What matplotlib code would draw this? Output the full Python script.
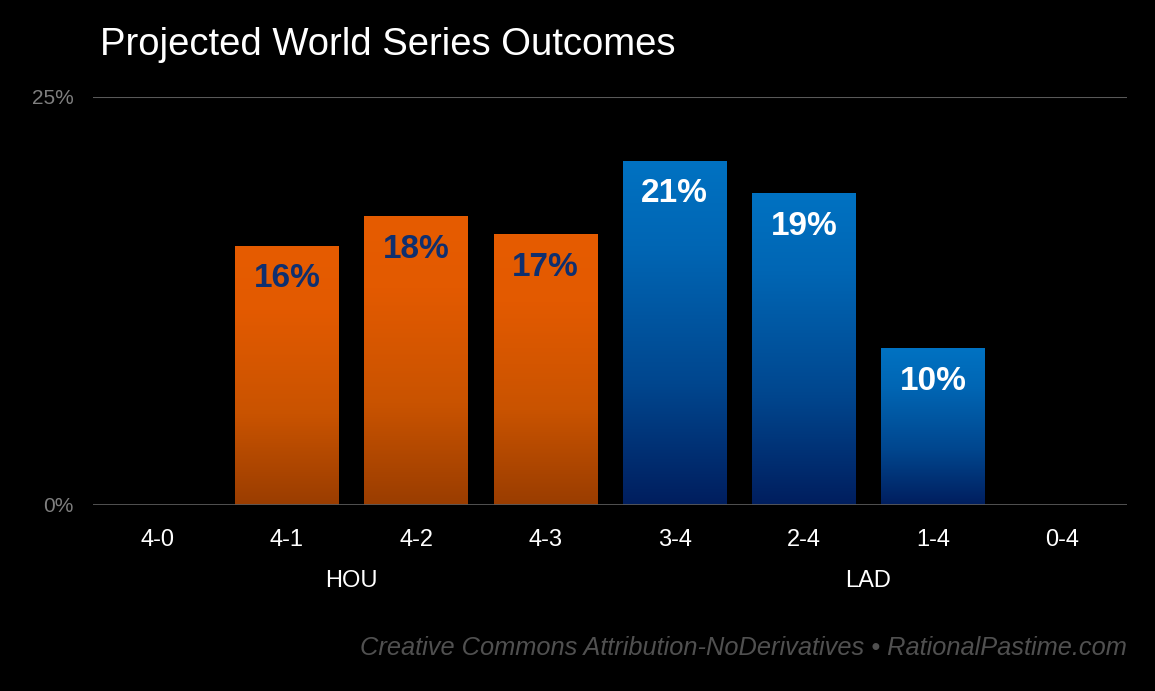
import numpy as np
import matplotlib
matplotlib.use("Agg")
import matplotlib.pyplot as plt
from matplotlib.colors import LinearSegmentedColormap

categories = ["4-0", "4-1", "4-2", "4-3", "3-4", "2-4", "1-4", "0-4"]
values = [0.0, 15.9, 17.7, 16.6, 21.1, 19.1, 9.6, 0.0]
labels = ["", "16%", "18%", "17%", "21%", "19%", "10%", ""]
teams = ["HOU", "HOU", "HOU", "HOU", "LAD", "LAD", "LAD", "LAD"]
group_names = ["HOU", "LAD"]
yticks = [0, 25]
ytick_labels = ["0%", "25%"]

plt.rcParams['font.family'] = ['Liberation Sans', 'DejaVu Sans']

fig = plt.figure(figsize=(11.55, 6.91), dpi=100, facecolor='black')
ax = fig.add_axes([93/1155, 1-505/691, (1127-93)/1155, (505-97)/691])
ax.set_facecolor('black')

x = np.arange(len(categories))
bars = ax.bar(x, values, width=0.8, color='none', edgecolor='none', zorder=2)

orange = LinearSegmentedColormap.from_list('o', [(0, '#9A3D00'), (0.35, '#C95300'), (0.75, '#E35A00'), (1, '#E65C00')])
blue = LinearSegmentedColormap.from_list('b', [(0, '#001E5E'), (0.35, '#00468E'), (0.75, '#0066B4'), (1, '#0072C2')])
grad = np.linspace(0, 1, 256).reshape(-1, 1)

for b, v, t in zip(bars, values, teams):
    if v <= 0:
        continue
    cmap = orange if t == "HOU" else blue
    x0 = b.get_x()
    im = ax.imshow(grad, cmap=cmap, origin='lower', aspect='auto',
                   extent=[x0, x0 + b.get_width(), 0, v], zorder=2)
    im.set_clip_path(b)

ax.set_xlim(-0.5, len(categories) - 0.5)
ax.set_ylim(0, 25)

for xi, v, lab, t in zip(x, values, labels, teams):
    if not lab:
        continue
    col = '#0F2F6F' if t == "HOU" else 'white'
    ax.annotate(lab, (xi, v), xytext=(0, -33), textcoords='offset pixels',
                ha='center', va='center', fontsize=24, fontweight='bold',
                color=col, zorder=3)

for s in ax.spines.values():
    s.set_visible(False)
ax.axhline(25, color='#595959', lw=1.5, zorder=1)
ax.axhline(0, color='#595959', lw=2, zorder=3)

ax.set_yticks(yticks)
ax.set_yticklabels(ytick_labels, color='#7F7F7F', fontsize=15)
ax.tick_params(axis='y', length=0, pad=14)
ax.set_xticks(x)
ax.set_xticklabels(categories, color='white', fontsize=17)
ax.tick_params(axis='x', length=0, pad=17)

for g in group_names:
    idx = [i for i, t in enumerate(teams) if t == g]
    cx = np.mean([x[i] for i in idx])
    ax.annotate(g, (cx, 0), xytext=(0, -76), textcoords='offset pixels',
                ha='center', va='center', color='white', fontsize=17,
                annotation_clip=False)

fig.text(100/1155, 1-45/691, "Projected World Series Outcomes", color='white',
         fontsize=27.5, ha='left', va='center')
fig.text(1127/1155, 1-648/691,
         "Creative Commons Attribution-NoDerivatives \u2022 RationalPastime.com",
         color='#505050', fontsize=18.3, style='italic', ha='right', va='center')

fig.savefig("out.png", dpi=100, facecolor='black')
